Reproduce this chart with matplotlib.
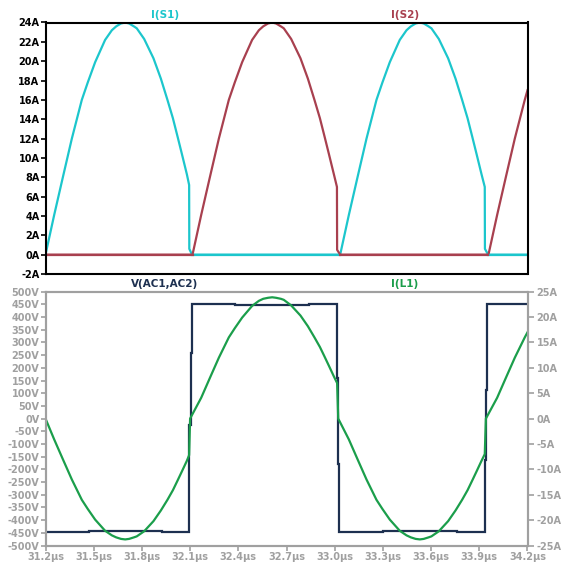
import numpy as np
import matplotlib
matplotlib.use("Agg")
import matplotlib.pyplot as plt

# ---------------- data ----------------
s1_t = [31.200, 31.254, 31.308, 31.364, 31.426, 31.463, 31.509, 31.571, 31.613, 31.640,
        31.670, 31.696, 31.720, 31.750, 31.768, 31.814, 31.872, 31.918, 31.959, 31.993,
        32.022, 32.049, 32.080, 32.094, 32.095, 32.112,
        33.034, 33.088, 33.142, 33.198, 33.260, 33.297, 33.343, 33.405, 33.447, 33.474,
        33.504, 33.530, 33.554, 33.584, 33.602, 33.648, 33.706, 33.752, 33.793, 33.827,
        33.856, 33.883, 33.914, 33.934, 33.935, 33.955, 34.200]
s1_i = [0.0, 4.1, 8.0, 12.0, 16.0, 17.8, 19.9, 22.2, 23.2, 23.6,
        23.9, 24.0, 23.9, 23.6, 23.4, 22.3, 20.3, 18.2, 16.0, 14.1,
        12.2, 10.4, 8.3, 7.2, 0.6, 0.0,
        0.0, 4.1, 8.0, 12.0, 16.0, 17.8, 19.9, 22.2, 23.2, 23.6,
        23.9, 24.0, 23.9, 23.6, 23.4, 22.3, 20.3, 18.2, 16.0, 14.1,
        12.2, 10.4, 8.3, 7.0, 0.6, 0.0, 0.0]

s2_t = [31.200, 32.115, 32.169, 32.223, 32.279, 32.341, 32.378, 32.424, 32.486, 32.528,
        32.555, 32.585, 32.611, 32.635, 32.665, 32.683, 32.729, 32.787, 32.833, 32.874,
        32.908, 32.937, 32.964, 32.995, 33.014, 33.015, 33.034,
        33.957, 34.011, 34.065, 34.121, 34.183, 34.200]
s2_i = [0.0, 0.0, 4.1, 8.0, 12.0, 16.0, 17.8, 19.9, 22.2, 23.2,
        23.6, 23.9, 24.0, 23.9, 23.6, 23.4, 22.3, 20.3, 18.2, 16.0,
        14.1, 12.2, 10.4, 8.3, 7.0, 0.5, 0.0,
        0.0, 4.1, 8.0, 12.0, 16.0, 17.0]

l1_t = [31.200, 31.254, 31.308, 31.364, 31.426, 31.463, 31.509, 31.571, 31.613, 31.640,
        31.670, 31.696, 31.720, 31.750, 31.768, 31.814, 31.872, 31.918, 31.959, 31.993,
        32.022, 32.049, 32.080, 32.094, 32.100,
        32.169, 32.223, 32.279, 32.341, 32.378, 32.424, 32.486, 32.528, 32.555, 32.585,
        32.611, 32.635, 32.665, 32.683, 32.729, 32.787, 32.833, 32.874, 32.908, 32.937,
        32.964, 32.995, 33.015, 33.022,
        33.088, 33.142, 33.198, 33.260, 33.297, 33.343, 33.405, 33.447, 33.474, 33.504,
        33.530, 33.554, 33.584, 33.602, 33.648, 33.706, 33.752, 33.793, 33.827, 33.856,
        33.883, 33.914, 33.934, 33.941,
        34.011, 34.065, 34.121, 34.183, 34.200]
l1_i = [0.0, -4.1, -8.0, -12.0, -16.0, -17.8, -19.9, -22.1, -23.0, -23.4,
        -23.7, -23.8, -23.7, -23.4, -23.2, -22.2, -20.2, -18.1, -16.0, -14.1,
        -12.2, -10.4, -8.3, -7.2, 0.0,
        4.1, 8.0, 12.0, 16.0, 17.8, 19.9, 22.2, 23.2, 23.6, 23.8,
        23.9, 23.8, 23.6, 23.4, 22.3, 20.3, 18.2, 16.0, 14.1, 12.2,
        10.4, 8.3, 7.0, 0.0,
        -4.1, -8.0, -12.0, -16.0, -17.8, -19.9, -22.1, -23.0, -23.4, -23.7,
        -23.8, -23.7, -23.4, -23.2, -22.2, -20.2, -18.1, -16.0, -14.1, -12.2,
        -10.4, -8.3, -7.0, 0.0,
        4.1, 8.0, 12.0, 16.0, 17.0]

v_t = [31.200, 31.468, 31.468, 31.924, 31.924, 32.094, 32.094, 32.103, 32.103, 32.110,
       32.110, 32.381, 32.381, 32.841, 32.841, 33.016, 33.016, 33.022, 33.022, 33.028,
       33.028, 33.300, 33.300, 33.760, 33.760, 33.937, 33.937, 33.943, 33.943, 33.950,
       33.950, 34.200]
v_v = [-448, -448, -443, -443, -448, -448, -26, -26, 258, 258,
       450, 450, 447, 447, 450, 450, 160, 160, -180, -180,
       -448, -448, -443, -443, -448, -448, -163, -163, 112, 112,
       450, 450]

top_yticks = list(range(-2, 25, 2))
top_ylabels = [f"{v}A" for v in top_yticks]
v_ticks = list(range(-500, 501, 50))
v_labels = [f"{v}V" for v in v_ticks]
i_ticks = list(range(-25, 26, 5))
i_labels = [f"{v}A" for v in i_ticks]
x_ticks = [31.2, 31.5, 31.8, 32.1, 32.4, 32.7, 33.0, 33.3, 33.6, 33.9, 34.2]
x_labels = [f"{v:.1f}\u00b5s" for v in x_ticks]

# ---------------- styles ----------------
C_S1 = "#1cc6cc"
C_S2 = "#a8404f"
C_V = "#1d3050"
C_L1 = "#1b9e4b"
GRAY = "#a0a0a0"
LW = 1.6

plt.rcParams['font.family'] = ['DejaVu Sans']
plt.rcParams['font.weight'] = 'bold'
FS = 7

W, H = 561, 563
fig = plt.figure(figsize=(W / 100, H / 100), dpi=100)
fig.patch.set_facecolor("white")

L, R = 45.5, 527.5
ax1 = fig.add_axes([L / W, 1 - 274 / H, (R - L) / W, (274 - 22.5) / H])
ax2 = fig.add_axes([L / W, 1 - 545.5 / H, (R - L) / W, (545.5 - 291.7) / H])
ax3 = ax2.twinx()

# ---- top panel ----
ax1.plot(s1_t, s1_i, color=C_S1, lw=LW, solid_joinstyle='round')
ax1.plot(s2_t, s2_i, color=C_S2, lw=LW, solid_joinstyle='round')
a1 = np.array(s1_i, dtype=float)
a2 = np.array(s2_i, dtype=float)
ax1.plot(s1_t, np.where(a1 == 0, a1, np.nan), color=C_S1, lw=LW)
ax1.plot(s2_t, np.where(a2 == 0, a2, np.nan), color=C_S2, lw=LW)
ax1.set_xlim(31.2, 34.2)
ax1.set_ylim(-2, 24)
ax1.set_yticks(top_yticks)
ax1.set_yticklabels(top_ylabels, fontsize=FS, fontweight='bold', color='black')
ax1.set_xticks(x_ticks)
ax1.set_xticklabels([])
ax1.tick_params(axis='y', direction='out', length=3.5, width=1.2, pad=0.8, colors='black')
ax1.tick_params(axis='x', direction='out', length=0, width=1.2)
for sp in ax1.spines.values():
    sp.set_color('black')
    sp.set_linewidth(1.5)

# ---- bottom panel ----
ax2.plot(v_t, v_v, color=C_V, lw=LW, solid_joinstyle='miter')
ax3.plot(l1_t, l1_i, color=C_L1, lw=LW, solid_joinstyle='round')
ax2.set_xlim(31.2, 34.2)
ax2.set_ylim(-500, 500)
ax3.set_ylim(-25, 25)
ax2.set_yticks(v_ticks)
ax2.set_yticklabels(v_labels, fontsize=FS, fontweight='bold', color=GRAY)
ax3.set_yticks(i_ticks)
ax3.set_yticklabels(i_labels, fontsize=FS, fontweight='bold', color=GRAY)
ax2.set_xticks(x_ticks)
ax2.set_xticklabels(x_labels, fontsize=FS, fontweight='bold', color=GRAY)
ax2.tick_params(axis='both', direction='out', length=3.5, width=1.2, pad=1.0, colors=GRAY)
ax3.tick_params(axis='y', direction='out', length=4, width=1.2, pad=2.5, colors=GRAY)
for ax in (ax2, ax3):
    for sp in ax.spines.values():
        sp.set_color(GRAY)
        sp.set_linewidth(1.5)
for lab in ax2.get_yticklabels() + ax3.get_yticklabels() + ax2.get_xticklabels():
    lab.set_color(GRAY)

# ---- trace titles ----
fig.text(165 / W, 1 - 15.5 / H, "I(S1)", color=C_S1, fontsize=FS + 0.5, fontweight='bold',
         ha='center', va='center')
fig.text(405 / W, 1 - 15.5 / H, "I(S2)", color=C_S2, fontsize=FS + 0.5, fontweight='bold',
         ha='center', va='center')
fig.text(165 / W, 1 - 284 / H, "V(AC1,AC2)", color=C_V, fontsize=FS + 0.5, fontweight='bold',
         ha='center', va='center')
fig.text(405 / W, 1 - 284 / H, "I(L1)", color=C_L1, fontsize=FS + 0.5, fontweight='bold',
         ha='center', va='center')

fig.savefig("out.png", dpi=100, facecolor="white")
